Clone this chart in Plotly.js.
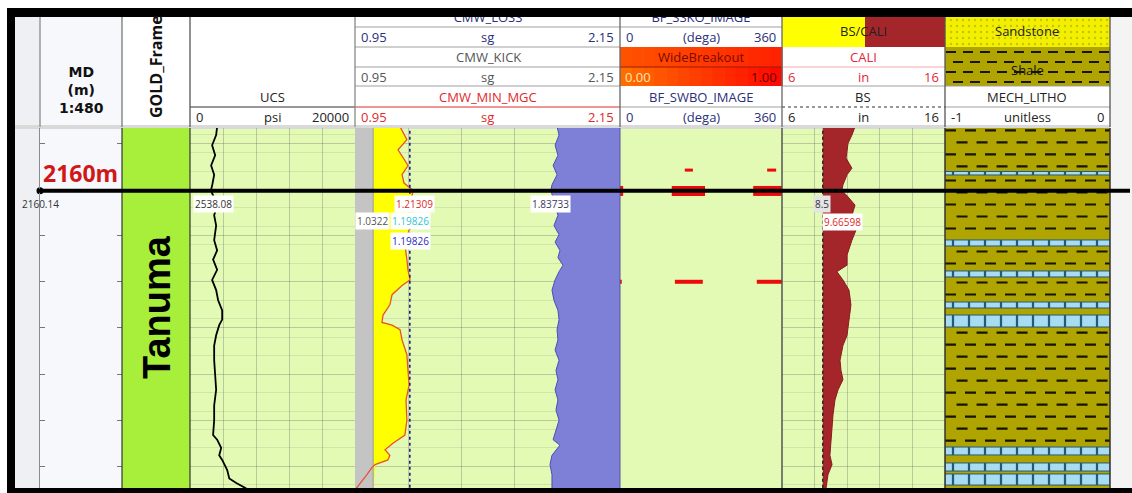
<!DOCTYPE html>
<html><head><meta charset="utf-8">
<script src="https://cdn.plot.ly/plotly-3.0.1.min.js"></script>
<style>html,body{margin:0;padding:0;background:#fff;}#chart{width:1132px;height:493px;}</style>
</head><body><div id="chart"></div>
<script>
// ================= DATA =================
const depthTop = 2153.34, depthBottom = 2192.34;
const cursorDepth = 2160.14;

// UCS (psi)
const ucsDepth = [2153.2,2154.1,2155.2,2156.3,2157.4,2158.4,2159.5,2160.1,2161.7,2162.8,2163.9,2165.5,2166.6,2167.6,2168.7,2169.8,2170.9,2172.0,2173.1,2174.1,2174.7,2175.8,2176.9,2178.5,2180.1,2181.7,2183.4,2185.0,2186.6,2187.1,2188.0,2188.8,2189.3,2190.4,2191.3,2191.8,2192.4];
const ucsPsi   = [3290,3170,2680,3050,2560,2930,2700,2538,3290,2930,3170,2930,3290,2800,3290,2680,3170,3410,3900,3900,3540,3170,2930,2930,3050,3170,2930,2930,2800,3290,3780,3540,3900,4510,4760,5610,6830];

// CMW (sg)
const cmwScale = [0.95, 2.15];
const kickSg = 1.0322;
const mudWeightSg = 1.19826;
const mgcDepth = [2153.2,2154.1,2154.6,2155.7,2156.6,2157.4,2158.4,2159.3,2160.1,2161.7,2164.4,2166.0,2167.6,2168.7,2169.8,2170.4,2171.4,2172.5,2173.6,2174.4,2174.7,2175.2,2176.3,2177.9,2179.6,2181.2,2182.8,2185.0,2186.6,2187.5,2188.2,2188.8,2189.3,2189.8,2190.1,2190.9,2192.4];
const mgcSg    = [1.154,1.176,1.185,1.145,1.167,1.190,1.163,1.172,1.213,1.199,1.195,1.176,1.185,1.190,1.199,1.163,1.118,1.108,1.077,1.072,1.118,1.154,1.163,1.185,1.190,1.195,1.181,1.185,1.176,1.122,1.086,1.108,1.099,1.041,1.027,1.004,0.955];
const lossDepth = [2153.2,2154.1,2155.2,2156.3,2157.4,2158.4,2159.5,2160.1,2161.7,2162.8,2163.9,2164.9,2165.7,2166.6,2167.4,2168.2,2168.9,2169.8,2170.9,2172.0,2173.1,2174.1,2175.2,2176.3,2177.4,2178.5,2179.6,2180.6,2181.7,2182.8,2183.9,2185.0,2187.1,2187.7,2188.8,2189.8,2190.9,2192.4];
const lossSg    = [1.865,1.874,1.856,1.869,1.847,1.865,1.842,1.837,1.856,1.869,1.851,1.874,1.856,1.878,1.869,1.892,1.874,1.856,1.842,1.851,1.869,1.874,1.865,1.869,1.856,1.874,1.860,1.869,1.856,1.869,1.860,1.874,1.847,1.878,1.842,1.833,1.842,1.842];

// Breakouts (deg)
const boDepth = [2157.9,2157.9,2160.16,2160.16,2160.16,2170.0,2170.0,2170.0];
const boFrom  = [144,327,115,296,0,122,304,0];
const boTo    = [162,347,189,360,7,184,360,4];

// BS / CALI (in)
const bsIn = 8.5;
const caliDepth = [2153.2,2154.1,2155.0,2156.6,2157.7,2158.4,2159.5,2160.1,2160.8,2161.7,2162.8,2164.4,2165.5,2167.1,2168.2,2168.9,2169.8,2170.9,2172.5,2174.1,2175.8,2176.9,2178.5,2179.6,2180.6,2181.7,2182.8,2184.4,2186.1,2187.7,2188.8,2189.8,2190.9,2192.4];
const caliIn    = [10.48,10.29,10.05,9.93,10.29,9.99,9.74,9.67,10.05,10.48,10.29,10.54,10.29,9.99,9.99,9.37,9.74,10.11,10.23,10.11,9.99,9.74,9.56,9.62,9.74,9.44,9.25,9.13,9.07,9.01,8.94,9.07,8.82,8.70];

// Formation
const formName = ['Tanuma'];
const formTop  = [2140];
const formBase = [2210];

// Mechanical lithology
const lithTop  = [2140,2158.05,2158.43,2165.47,2166.12,2168.83,2169.48,2172.19,2172.84,2173.60,2174.90,2187.90,2188.76,2189.63,2190.50,2190.82,2192.02];
const lithBase = [2158.05,2158.43,2165.47,2166.12,2168.83,2169.48,2172.19,2172.84,2173.60,2174.90,2187.90,2188.76,2189.63,2190.50,2190.82,2192.02,2200];
const lithType = ['Shale','Lime','Shale','Lime','Shale','Lime','Shale','Lime','Shale','Lime','Shale','Lime','Shale','Lime','Shale','Lime','Shale'];

// Cursor readouts
const readUcs = '2538.08', readMgc = '1.21309', readLoss = '1.83733', readKick = '1.0322',
      readCyan = '1.19826', readMw = '1.19826', readBs = '8.5', readCali = '9.66598';

// ================= LAYOUT HELPERS =================
const W = 1132, H = 493;
const px = x => x / W, py = y => 1 - y / H;
const yDom = [py(488), py(128)];
const yRange = [depthBottom, depthTop];
const edgeDepth = [depthTop - 1, depthBottom + 1];
const gridCol = 'rgba(105,105,105,0.34)';
const minorCol = 'rgba(120,120,120,0.16)';
const OS = 'Open Sans, sans-serif';

const traces = [];
const common = {type:'scatter', hoverinfo:'skip', showlegend:false};

// MD cursor dot (creates MD subplot)
traces.push(Object.assign({}, common, {xaxis:'x', yaxis:'y2', mode:'markers', x:[0], y:[cursorDepth], marker:{size:7, color:'#000'}, cliponaxis:false}));

// GOLD frame formation bar
traces.push({type:'bar', orientation:'h', xaxis:'x2', yaxis:'y2', hoverinfo:'skip', showlegend:false,
  y: formTop.map((t,i)=>(t+formBase[i])/2), width: formTop.map((t,i)=>formBase[i]-t),
  x: formTop.map(()=>1), base: 0, marker:{color:'#a8ef3c', line:{width:0}}});

// UCS
traces.push(Object.assign({}, common, {xaxis:'x3', yaxis:'y', mode:'lines', x:ucsPsi, y:ucsDepth, line:{color:'#000', width:1.8}}));

// CMW
traces.push(Object.assign({}, common, {xaxis:'x4', yaxis:'y', mode:'lines', x:edgeDepth.map(()=>kickSg), y:edgeDepth, fill:'tozerox', fillcolor:'#c4c4c4', line:{color:'#9a9a9a', width:1}}));
const fillIdx = mgcSg.map((v,i)=>i).filter(i=>mgcSg[i] >= kickSg);
traces.push(Object.assign({}, common, {xaxis:'x4', yaxis:'y', mode:'lines', x:fillIdx.map(i=>mgcSg[i]), y:fillIdx.map(i=>mgcDepth[i]), fill:'tonextx', fillcolor:'#ffff00', line:{width:0}}));
traces.push(Object.assign({}, common, {xaxis:'x4', yaxis:'y', mode:'lines', x:mgcSg, y:mgcDepth, line:{color:'#e5542a', width:1.3}}));
traces.push(Object.assign({}, common, {xaxis:'x4', yaxis:'y', mode:'lines', x:edgeDepth.map(()=>mudWeightSg), y:edgeDepth, line:{color:'#1b1f8a', width:1.6, dash:'dot'}}));
traces.push(Object.assign({}, common, {xaxis:'x4', yaxis:'y', mode:'lines', x:edgeDepth.map(()=>cmwScale[1]), y:edgeDepth, line:{width:0, color:'rgba(0,0,0,0)'}}));
traces.push(Object.assign({}, common, {xaxis:'x4', yaxis:'y', mode:'lines', x:lossSg, y:lossDepth, fill:'tonextx', fillcolor:'#7e80d8', line:{color:'#4b4db9', width:1}}));

// Breakouts
const boWidthByDepth = {'2157.9':3, '2160.16':10, '2170':4};
boDepth.forEach((d,i)=>{
  traces.push(Object.assign({}, common, {xaxis:'x5', yaxis:'y2', mode:'lines', x:[boFrom[i], boTo[i]], y:[d,d],
    line:{color:'#ee0a0a', width: boWidthByDepth[String(d)] || 3}}));
});

// BS / CALI
traces.push(Object.assign({}, common, {xaxis:'x6', yaxis:'y', mode:'lines', x:edgeDepth.map(()=>bsIn), y:edgeDepth, line:{color:'#222', width:1, dash:'dot'}}));
traces.push(Object.assign({}, common, {xaxis:'x6', yaxis:'y', mode:'lines', x:caliIn, y:caliDepth, fill:'tonextx', fillcolor:'#a4262b', line:{color:'#8a1c1c', width:1}}));
traces.push(Object.assign({}, common, {xaxis:'x6', yaxis:'y', mode:'lines', x:edgeDepth.map(()=>bsIn), y:edgeDepth, line:{color:'#222', width:1, dash:'dot'}}));

// Lithology bars
function lithBar(type, marker){
  const idx = lithType.map((t,i)=>i).filter(i=>lithType[i]===type);
  traces.push({type:'bar', orientation:'h', xaxis:'x7', yaxis:'y2', hoverinfo:'skip', showlegend:false,
    y: idx.map(i=>(lithTop[i]+lithBase[i])/2), width: idx.map(i=>lithBase[i]-lithTop[i]),
    x: idx.map(()=>1), base: -1, marker});
}
lithBar('Shale', {color:'#afa400', line:{width:0}});
lithBar('Lime', {color:'#a8dcf2', line:{color:'#24597a', width:1},
  pattern:{shape:'|', size:16, solidity:0.14, fgcolor:'#24597a', bgcolor:'#a8dcf2'}});
// shale dash rows (pattern)
const rowsEven = {x:[], y:[]}, rowsOdd = {x:[], y:[]};
let rowK = 0;
lithTop.forEach((t,i)=>{
  if (lithType[i] !== 'Shale') return;
  for (let d = t + 0.6; d < lithBase[i] - 0.35; d += 1.3) {
    const r = (rowK++ % 2 === 0) ? rowsEven : rowsOdd;
    const x0 = (r === rowsEven) ? -1 : -0.93;
    r.x.push(x0, 0, null); r.y.push(d, d, null);
  }
});
[rowsEven, rowsOdd].forEach(r=>traces.push(Object.assign({}, common, {xaxis:'x7', yaxis:'y2', mode:'lines', x:r.x, y:r.y, connectgaps:false,
  line:{color:'#151500', width:2.2, dash:'11px,9px'}})));

// Header: sandstone swatch texture and cut-off titles (clipped by header subplot)
traces.push({type:'bar', orientation:'h', xaxis:'x8', yaxis:'y3', hoverinfo:'skip', showlegend:false,
  y:[32], width:[30], base:945, x:[165], marker:{color:'#f3ef00', line:{width:0},
  pattern:{shape:'.', size:6, solidity:0.12, fgcolor:'#c8c400', bgcolor:'#f3ef00'}}});
traces.push(Object.assign({}, common, {xaxis:'x8', yaxis:'y3', mode:'text', x:[488, 701], y:[19, 19],
  text:['CMW_LOSS','BF_SSKO_IMAGE'], textposition:'middle center', textfont:{family:OS, size:13, color:'#2a2f7a'}}));

// ================= SHAPES =================
const shapes = [];
function R(x0,y0,x1,y1,fill,layer,line){ shapes.push({type:'rect', xref:'paper', yref:'paper', x0:px(x0), x1:px(x1), y0:py(y0), y1:py(y1), fillcolor:fill, line: line||{width:0}, layer: layer||'below'}); }
function L(x0,y0,x1,y1,color,width,dash,layer){ shapes.push({type:'line', xref:'paper', yref:'paper', x0:px(x0), x1:px(x1), y0:py(y0), y1:py(y1), line:{color, width:width||1, dash:dash||'solid'}, layer: layer||'above'}); }

R(15,17,40,488,'#eef0f3');
R(40,17,122,488,'#f6f8fc');
R(190,128,945,488,'#e3fab4');
R(1110,17,1132,488,'#f4f4f4');
R(15,125,1110,129,'#d9d9d9');

// header boxes
function lerpCol(a,b,t){ const pa=[1,3,5].map(k=>parseInt(a.substr(k,2),16)), pb=[1,3,5].map(k=>parseInt(b.substr(k,2),16));
  return 'rgb('+pa.map((v,i)=>Math.round(v+(pb[i]-v)*t)).join(',')+')'; }
const nStripe = 14;
for (let s=0; s<nStripe; s++){
  const xa = 620 + (162*s)/nStripe, xb = 620 + (162*(s+1))/nStripe + 0.6;
  R(xa,47,xb,67,lerpCol('#ff5200','#ff2200',s/(nStripe-1)));
  R(xa,67,xb,86,lerpCol('#ff6c00','#ff0a00',s/(nStripe-1)));
}
L(620,67,782,67,'#a01800',1);
R(782,17,865,47,'#ffff00');
R(865,17,945,47,'#a4262b');
R(945,47,1110,86,'#afa400');
[52,62,72,82].forEach((y,i)=>L(i%2?953:946,y,1109,y,'#151500',2,'10px,7px','below'));

// header lines
L(190,107,355,107,'#333',1.2);
[27,47,67,86].forEach(y=>L(355,y,620,y,'#a0a0a0',1));
L(355,107,620,107,'#e03030',1.2);
L(620,27,782,27,'#a0a0a0',1);
L(620,107,782,107,'#a0a0a0',1);
L(782,67,945,67,'#f0a8a8',1);
L(782,86,945,86,'#a0a0a0',1);
L(782,107,945,107,'#333',1.2,'dot');
L(945,86,1110,86,'#a0a0a0',1);
L(945,107,1110,107,'#a0a0a0',1);

// header vertical separators
[[40,'#8a8a8a'],[122,'#777'],[190,'#555'],[355,'#888'],[620,'#666'],[782,'#666'],[945,'#555'],[1110,'#555']]
  .forEach(([x,c])=>L(x,17,x,127,c,1.3));
// data vertical separators
[[122,'#333',1.2],[190,'#333',1.2],[620,'#55579a',1],[782,'#555',1.5],[945,'#333',1.5],[1110,'#333',1.5]]
  .forEach(([x,c,w])=>L(x,128,x,488,c,w));

// cursor line
shapes.push({type:'line', xref:'paper', yref:'y2', x0:px(38), x1:px(1130), y0:cursorDepth, y1:cursorDepth, line:{color:'#000', width:4}, layer:'above'});

// outer frame
R(7,8,1132,17,'#000','above');
R(7,8,15,493,'#000','above');
R(7,488,1132,493,'#000','above');

// ================= ANNOTATIONS =================
const ann = [];
function T(x,y,text,o){ o=o||{}; const a = {xref:'paper', yref:'paper', x:px(x), y:py(y), text, showarrow:false,
  xanchor:o.xa||'center', yanchor:'middle', textangle:o.a||0,
  font:{family:o.ff||OS, size:o.s||13, color:o.c||'#222'}, borderpad:o.bp||0};
  if (o.bg) a.bgcolor = o.bg; ann.push(a); }
function row(x0,x1,y,l,m,r,c){ T(x0+5,y,l,{xa:'left',c}); T((x0+x1)/2,y,m,{c}); T(x1-5,y,r,{xa:'right',c}); }

T(81,90,'<b>MD</b><br><b>(m)</b><br><b>1:480</b>',{ff:'DejaVu Sans, sans-serif', s:14, c:'#111'});
T(156,67,'<b>GOLD_Frame</b>',{s:16, a:-90, c:'#111'});

T(272,97,'UCS');
row(190,355,117,'0','psi','20000','#222');

row(355,620,37,'0.95','sg','2.15','#2a2f7a');
T(488,57,'CMW_KICK',{c:'#555'});
row(355,620,77,'0.95','sg','2.15','#555');
T(488,97,'CMW_MIN_MGC',{c:'#e0282a'});
row(355,620,117,'0.95','sg','2.15','#e0282a');

row(620,782,37,'0','(dega)','360','#2a2f7a');
T(701,57,'WideBreakout',{c:'#7a0a00'});
T(624,77,'0.00',{xa:'left', c:'#ffe9b0'});
T(778,77,'1.00',{xa:'right', c:'#6a0000'});
T(701,97,'BF_SWBO_IMAGE',{c:'#2a2f7a'});
row(620,782,117,'0','(dega)','360','#2a2f7a');

T(863,31,'BS/CALI',{c:'#222'});
T(863,57,'CALI',{c:'#e0283a'});
row(782,945,77,'6','in','16','#e0283a');
T(863,97,'BS',{c:'#222'});
row(782,945,117,'6','in','16','#222');

T(1027,31,'Sandstone',{c:'#222'});
T(1027,70,'Shale',{c:'#111'});
T(1027,97,'MECH_LITHO',{c:'#222'});
row(945,1110,117,'-1','unitless','0','#222');

// depth marker & formation
T(80,173,'<b>2160m</b>',{s:23, c:'#d01818'});
T(157,307,'<b>'+formName[0]+'</b>',{ff:'Liberation Sans, Arial, sans-serif', s:38, a:-90, c:'#000'});

// readouts
T(40,204,String(cursorDepth),{s:10, c:'#333'});
T(193,204,readUcs,{xa:'left', s:10, c:'#333', bg:'#ffffff', bp:1});
T(414,204,readMgc,{s:10, c:'#e02828', bg:'#ffffff', bp:1});
T(550,204,readLoss,{s:10, c:'#3a3a5a', bg:'#ffffff', bp:1});
T(372,221,readKick,{s:10, c:'#555', bg:'#ffffff', bp:1});
T(410,221,readCyan,{s:10, c:'#2fc4d6', bg:'#ffffff', bp:1});
T(410,241,readMw,{s:10, c:'#2828c8', bg:'#ffffff', bp:1});
T(822,204,readBs,{s:10, c:'#333', bg:'#e4e4e4', bp:1});
T(842,222,readCali,{s:10, c:'#e02828', bg:'#ffffff', bp:1});

// ================= AXES =================
function gridX(dom, range, dtick, tick0){ return {domain:dom, range, anchor:'y', showgrid:true, gridcolor:gridCol, gridwidth:1,
  dtick, tick0, showticklabels:false, ticks:'', zeroline:false, showline:false, fixedrange:true}; }
function hiddenX(dom, range, anchor){ return {domain:dom, range, anchor, visible:false, fixedrange:true}; }

const layout = {
  width:W, height:H, margin:{l:0,r:0,t:0,b:0,pad:0}, paper_bgcolor:'#ffffff', plot_bgcolor:'rgba(0,0,0,0)',
  showlegend:false, barmode:'overlay', font:{family:OS},
  xaxis: hiddenX([px(40),px(122)],[0,1],'y2'),
  xaxis2: hiddenX([px(122),px(190)],[0,1],'y2'),
  xaxis3: gridX([px(190),px(355)],[0,20000],4000,0),
  xaxis4: gridX([px(355),px(620)],cmwScale,0.24,0.95),
  xaxis5: hiddenX([px(620),px(782)],[0,360],'y2'),
  xaxis6: gridX([px(782),px(945)],[6,16],2,6),
  xaxis7: hiddenX([px(945),px(1110)],[-1,0],'y2'),
  xaxis8: hiddenX([0,1],[0,W],'y3'),
  yaxis: {domain:yDom, range:yRange, anchor:'x3', showgrid:true, gridcolor:gridCol, dtick:5, tick0:0,
    minor:{dtick:2, tick0:0, showgrid:true, gridcolor:minorCol}, showticklabels:false, ticks:'', zeroline:false, showline:false, fixedrange:true},
  yaxis2: {domain:yDom, range:yRange, anchor:'x', showgrid:false, zeroline:false, showline:true, linecolor:'#8a8a8a', linewidth:1,
    mirror:'ticks', ticks:'inside', ticklen:5, tickwidth:1, tickcolor:'#777', dtick:5, tick0:0, showticklabels:false, fixedrange:true},
  yaxis3: {domain:[py(127), py(17)], range:[127,17], anchor:'x8', visible:false, fixedrange:true},
  shapes, annotations: ann
};

Plotly.newPlot('chart', traces, layout, {staticPlot:true, displayModeBar:false});
</script></body></html>
